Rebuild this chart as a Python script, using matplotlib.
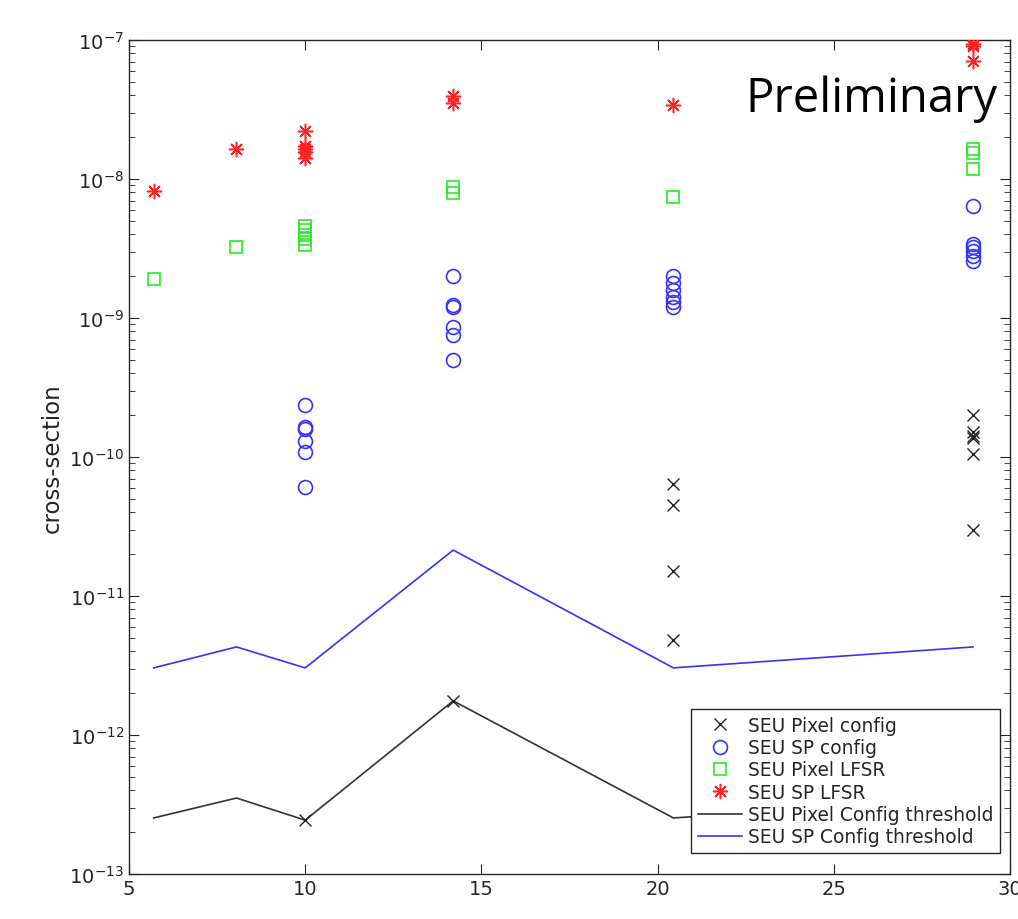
import matplotlib
matplotlib.use("Agg")
import matplotlib.pyplot as plt
from matplotlib.ticker import LogLocator, NullFormatter, FixedLocator

# LET values of the six beam settings
let_vals = [5.7, 8.05, 10.0, 14.2, 20.45, 28.95]

# SEU Pixel config (x markers)
pix_cfg_x = [10.0, 14.2, 20.45, 20.45, 20.45, 20.45,
             28.95, 28.95, 28.95, 28.95, 28.95, 28.95]
pix_cfg_y = [2.44e-13, 1.76e-12, 6.4e-11, 4.5e-11, 1.51e-11, 4.83e-12,
             2.0e-10, 1.51e-10, 1.42e-10, 1.37e-10, 1.05e-10, 2.98e-11]

# SEU SP config (circles)
sp_cfg_x = [10.0] * 6 + [14.2] * 6 + [20.45] * 6 + [28.95] * 6
sp_cfg_y = [2.37e-10, 1.64e-10, 1.59e-10, 1.30e-10, 1.09e-10, 6.08e-11,
            2.0e-9, 1.24e-9, 1.20e-9, 8.6e-10, 7.55e-10, 4.99e-10,
            2.0e-9, 1.8e-9, 1.6e-9, 1.42e-9, 1.3e-9, 1.2e-9,
            6.4e-9, 3.41e-9, 3.25e-9, 3.03e-9, 2.79e-9, 2.57e-9]

# SEU Pixel LFSR (squares)
pix_lfsr_x = [5.7, 8.05, 10.0, 10.0, 10.0, 10.0, 10.0,
              14.2, 14.2, 20.45, 28.95, 28.95, 28.95]
pix_lfsr_y = [1.91e-9, 3.25e-9, 4.59e-9, 4.30e-9, 3.95e-9, 3.70e-9, 3.35e-9,
              8.75e-9, 7.93e-9, 7.43e-9, 1.64e-8, 1.54e-8, 1.18e-8]

# SEU SP LFSR (asterisks)
sp_lfsr_x = [5.7, 8.05, 10.0, 10.0, 10.0, 10.0, 10.0,
             14.2, 14.2, 20.45, 28.95, 28.95, 28.95]
sp_lfsr_y = [8.2e-9, 1.64e-8, 2.21e-8, 1.73e-8, 1.64e-8, 1.56e-8, 1.42e-8,
             3.95e-8, 3.52e-8, 3.41e-8, 9.35e-8, 9.06e-8, 7.06e-8]

# thresholds
pix_thr = [2.53e-13, 3.52e-13, 2.44e-13, 1.76e-12, 2.53e-13, 3.52e-13]
sp_thr = [3.04e-12, 4.3e-12, 3.04e-12, 2.14e-11, 3.04e-12, 4.3e-12]

xticks = [5, 10, 15, 20, 25, 30]

fig = plt.figure(figsize=(10.18, 9.2), dpi=100)
ax = fig.add_axes([129 / 1018, 45 / 920, 881 / 1018, 834 / 920])

grey = "#262626"
ax.plot(pix_cfg_x, pix_cfg_y, linestyle="none", marker="x", color="#222222",
        markersize=9, markeredgewidth=1.0, label="SEU Pixel config", zorder=3)
ax.plot(sp_cfg_x, sp_cfg_y, linestyle="none", marker="o", markerfacecolor="none",
        markeredgecolor="#3333ff", markersize=10, markeredgewidth=1.2,
        label="SEU SP config", zorder=3)
ax.plot(pix_lfsr_x, pix_lfsr_y, linestyle="none", marker="s", markerfacecolor="none",
        markeredgecolor="#22ee22", markersize=8, markeredgewidth=1.2,
        label="SEU Pixel LFSR", zorder=3)
ax.plot(sp_lfsr_x, sp_lfsr_y, linestyle="none", marker=(8, 2, 0), color="#ff2222",
        markersize=11, markeredgewidth=1.1, label="SEU SP LFSR", zorder=3)
ax.plot(let_vals, pix_thr, color="#333333", linewidth=1.2,
        label="SEU Pixel Config threshold", zorder=2)
ax.plot(let_vals, sp_thr, color="#3333ff", linewidth=1.2,
        label="SEU SP Config threshold", zorder=2)

ax.set_yscale("log")
ax.set_xlim(5, 30)
ax.set_ylim(1e-13, 1e-7)
ax.xaxis.set_major_locator(FixedLocator(xticks))
ax.yaxis.set_major_locator(LogLocator(base=10, numticks=20))
ax.yaxis.set_minor_locator(LogLocator(base=10, subs=range(2, 10), numticks=20))
ax.yaxis.set_minor_formatter(NullFormatter())

for s in ax.spines.values():
    s.set_color(grey)
    s.set_linewidth(1.0)
ax.tick_params(axis="both", which="both", direction="in", top=True, right=True,
               colors=grey, labelsize=14, labelcolor=grey)
ax.tick_params(which="major", length=7)
ax.tick_params(which="minor", length=4)

ax.set_ylabel("cross-section", fontsize=16.5, color=grey, labelpad=4)
ax.set_xlabel("LET", fontsize=16, color=grey, labelpad=16)

leg = ax.legend(loc="lower right", fontsize=13.4, frameon=True, fancybox=False,
                edgecolor=grey, framealpha=1.0, borderaxespad=0.0,
                bbox_to_anchor=(1000 / 1018, (920 - 854) / 920),
                bbox_transform=fig.transFigure,
                handlelength=2.4, labelspacing=0.18, borderpad=0.35,
                handletextpad=0.3)
leg.get_frame().set_linewidth(1.0)
for t in leg.get_texts():
    t.set_color(grey)

fig.text(997 / 1018, 1 - 112 / 920, "Preliminary", ha="right", va="baseline",
         fontsize=34, family=["Open Sans", "DejaVu Sans"], color="black")

fig.savefig("out.png", dpi=100)
